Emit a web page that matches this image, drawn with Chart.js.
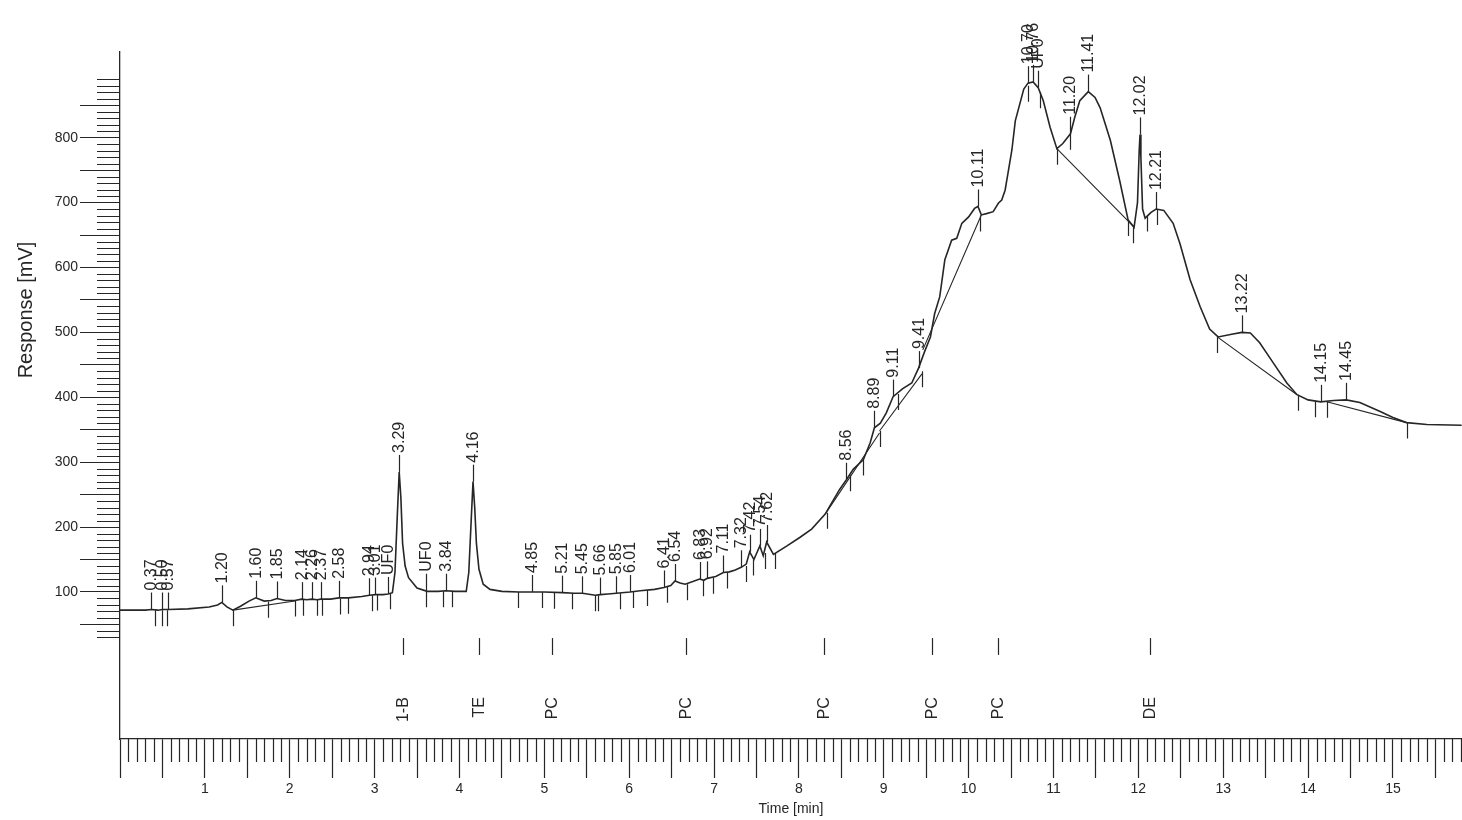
<!DOCTYPE html>
<html>
<head>
<meta charset="utf-8">
<script src="https://cdn.jsdelivr.net/npm/chart.js@4.4.1/dist/chart.umd.min.js"></script>
<style>
  html, body { margin: 0; padding: 0; background: #ffffff; }
  canvas { display: block; }
</style>
</head>
<body>
<canvas id="chrom" width="1462" height="820"></canvas>
<script>
// Detector trace: retention time [min] and response [mV]
const traceTime = [
  0.00, 0.30, 0.37, 0.45, 0.50, 0.57, 0.80, 1.05, 1.15, 1.20, 1.26, 1.33, 1.42, 1.52, 1.60, 1.70,
  1.78, 1.85, 1.95, 2.06, 2.14, 2.20, 2.26, 2.32, 2.37, 2.48, 2.58, 2.69, 2.85, 2.94, 3.01, 3.10,
  3.16, 3.21, 3.24, 3.27, 3.29, 3.31, 3.33, 3.36, 3.40, 3.50, 3.62, 3.75, 3.84, 3.95, 4.08, 4.11,
  4.14, 4.16, 4.18, 4.20, 4.23, 4.28, 4.36, 4.50, 4.70, 4.85, 5.00, 5.21, 5.35, 5.45, 5.60, 5.66,
  5.75, 5.85, 6.01, 6.13, 6.30, 6.41, 6.49, 6.54, 6.60, 6.66, 6.75, 6.83, 6.88, 6.92, 7.02, 7.11,
  7.18, 7.25, 7.32, 7.38, 7.42, 7.47, 7.54, 7.58, 7.62, 7.70, 7.86, 8.01, 8.15, 8.31, 8.39, 8.48,
  8.56, 8.64, 8.76, 8.84, 8.89, 8.96, 9.03, 9.11, 9.22, 9.33, 9.41, 9.48, 9.55, 9.60, 9.66, 9.72,
  9.80, 9.86, 9.92, 10.00, 10.07, 10.11, 10.15, 10.21, 10.29, 10.35, 10.39, 10.43, 10.47, 10.51, 10.55, 10.65,
  10.70, 10.76, 10.82, 10.88, 10.96, 11.04, 11.11, 11.20, 11.25, 11.31, 11.41, 11.49, 11.55, 11.67, 11.78, 11.88,
  11.95, 11.99, 12.01, 12.02, 12.03, 12.05, 12.08, 12.15, 12.21, 12.30, 12.41, 12.49, 12.61, 12.73, 12.84, 12.94,
  13.10, 13.22, 13.32, 13.43, 13.59, 13.75, 13.87, 14.00, 14.15, 14.30, 14.45, 14.61, 14.85, 15.00, 15.16, 15.40,
  15.81
];
const traceResponse = [
  72, 72, 73, 72, 73, 73, 74, 77, 80, 84, 77, 72, 78, 86, 91, 86,
  87, 90, 87, 87, 89, 88, 89, 88, 89, 89, 91, 91, 93, 95, 96, 96,
  97, 99, 130, 225, 285, 245, 175, 140, 122, 106, 101, 101, 102, 101, 101, 130,
  215, 270, 230, 175, 135, 112, 104, 101, 100, 100, 100, 99, 98, 98, 95, 96,
  97, 98, 100, 102, 104, 107, 110, 117, 114, 112, 116, 120, 118, 121, 124, 130,
  131, 134, 138, 143, 162, 150, 171, 156, 177, 158, 171, 184, 197, 220, 238, 258,
  273, 289, 304, 330, 353, 360, 376, 401, 413, 422, 445, 470, 493, 529, 555, 612,
  642, 645, 668, 678, 691, 694, 681, 683, 686, 699, 704, 719, 750, 781, 826, 875,
  884, 886, 877, 857, 816, 783, 791, 806, 831, 857, 871, 862, 846, 796, 734, 673,
  662, 700, 780, 805, 770, 690, 676, 685, 690, 688, 668, 637, 581, 539, 505, 493,
  497, 500, 499, 484, 453, 422, 404, 396, 393, 395, 396, 392, 378, 369, 361, 358,
  357
];

// Integration baselines drawn under resolved peaks
const baseStartTime = [1.33, 8.31, 8.95, 9.46, 11.04, 12.93, 14.22];
const baseStartResp = [72, 220, 348, 473, 783, 493, 393];
const baseEndTime = [2.06, 8.95, 9.45, 10.15, 11.95, 13.87, 15.16];
const baseEndResp = [86, 345, 436, 681, 662, 404, 361];

// Peak apex labels (retention time text, position, apex response)
const peakLabels = [
  '0.37', '0.50', '0.57', '1.20', '1.60', '1.85', '2.14', '2.26', '2.37', '2.58', '2.94', '3.01',
  'UF0', '3.29', 'UF0', '3.84', '4.16', '4.85', '5.21', '5.45', '5.66', '5.85', '6.01', '6.41',
  '6.54', '6.83', '6.92', '7.11', '7.32', '7.42', '7.54', '7.62', '8.56', '8.89', '9.11', '9.41',
  '10.11', '10.70', '10.76', 'UF0', '11.20', '11.41', '12.02', '12.21', '13.22', '14.15', '14.45'
];
const peakTimes = [
  0.37, 0.50, 0.57, 1.20, 1.60, 1.85, 2.14, 2.26, 2.37, 2.58, 2.94, 3.01,
  3.16, 3.29, 3.60, 3.84, 4.16, 4.85, 5.21, 5.45, 5.66, 5.85, 6.01, 6.41,
  6.54, 6.83, 6.92, 7.11, 7.32, 7.42, 7.54, 7.62, 8.56, 8.89, 9.11, 9.41,
  10.11, 10.70, 10.76, 10.82, 11.20, 11.41, 12.02, 12.21, 13.22, 14.15, 14.45
];
const peakApex = [
  73, 73, 73, 84, 91, 90, 89, 89, 89, 91, 95, 96,
  97, 285, 102, 102, 270, 100, 99, 98, 96, 98, 100, 107,
  117, 120, 121, 130, 138, 162, 171, 177, 273, 353, 401, 445,
  694, 884, 886, 877, 806, 871, 805, 690, 500, 393, 396
];

// Peak start / end markers
const boundaryTimes = [
  0.41, 0.49, 0.55, 1.33, 1.74, 2.06, 2.16, 2.32, 2.38, 2.59, 2.69, 2.97,
  3.03, 3.18, 3.61, 3.81, 3.91, 4.69, 4.97, 5.11, 5.33, 5.60, 5.63, 5.89,
  6.05, 6.21, 6.44, 6.68, 6.87, 6.99, 7.15, 7.38, 7.46, 7.60, 7.72, 8.33,
  8.60, 8.76, 8.95, 9.17, 9.45, 10.13, 10.70, 10.84, 11.04, 11.20, 11.88, 11.94,
  12.10, 12.22, 12.93, 13.88, 14.08, 14.22, 15.16
];
const boundaryResp = [
  72, 72, 72, 72, 85, 87, 88, 88, 88, 90, 91, 95,
  96, 98, 101, 101, 101, 100, 100, 99, 98, 95, 95, 98,
  100, 103, 108, 112, 118, 122, 130, 140, 150, 160, 160, 222,
  280, 304, 348, 405, 440, 680, 880, 870, 783, 806, 673, 662,
  680, 690, 493, 404, 394, 393, 361
];

// Method events along the time axis
const eventTimes = [3.34, 4.23, 5.09, 6.67, 8.30, 9.57, 10.35, 12.14];
const eventLabels = ['1-B', 'TE', 'PC', 'PC', 'PC', 'PC', 'PC', 'DE'];

// Axis ranges and tick spacing
const timeMin = 0, timeMax = 15.814;
const respMin = -126.5, respMax = 932;
const respMajorStep = 50, respMinorStep = 10, respMinorFrom = 30, respMinorTo = 890;
const timeMajorStep = 0.5, timeMinorStep = 0.1;

const INK = '#262626';
const FONT = '"Liberation Sans", Arial, Helvetica, sans-serif';

const tracePoints = traceTime.map((t, i) => ({ x: t, y: traceResponse[i] }));
const basePoints = [];
baseStartTime.forEach((t, i) => {
  basePoints.push({ x: t, y: baseStartResp[i] });
  basePoints.push({ x: baseEndTime[i], y: baseEndResp[i] });
  basePoints.push({ x: baseEndTime[i], y: null });
});

const annotations = {
  id: 'chromAnnotations',
  afterDatasetsDraw(chart) {
    const { ctx, scales: { x, y }, chartArea } = chart;
    ctx.save();
    ctx.strokeStyle = INK;
    ctx.fillStyle = INK;
    ctx.lineWidth = 1.2;

    // minor time ticks
    ctx.beginPath();
    for (let k = 0; k * timeMinorStep <= timeMax + 1e-9; k++) {
      if (k % 5 === 0) continue;
      const px = Math.round(x.getPixelForValue(k * timeMinorStep)) + 0.5;
      ctx.moveTo(px, chartArea.bottom);
      ctx.lineTo(px, chartArea.bottom + 23);
    }
    // minor response ticks
    for (let v = respMinorFrom; v <= respMinorTo; v += respMinorStep) {
      if (v % respMajorStep === 0) continue;
      const py = Math.round(y.getPixelForValue(v)) + 0.5;
      ctx.moveTo(chartArea.left - 23, py);
      ctx.lineTo(chartArea.left, py);
    }
    ctx.stroke();

    // peak start / end markers
    ctx.beginPath();
    boundaryTimes.forEach((t, i) => {
      const px = Math.round(x.getPixelForValue(t)) + 0.5;
      const py = y.getPixelForValue(boundaryResp[i]);
      ctx.moveTo(px, py);
      ctx.lineTo(px, py + 16);
    });
    ctx.stroke();

    // apex ticks and retention-time labels
    ctx.font = '16px ' + FONT;
    ctx.textAlign = 'left';
    ctx.textBaseline = 'middle';
    peakTimes.forEach((t, i) => {
      const px = Math.round(x.getPixelForValue(t)) + 0.5;
      const py = y.getPixelForValue(peakApex[i]);
      ctx.beginPath();
      ctx.moveTo(px, py);
      ctx.lineTo(px, py - 17);
      ctx.stroke();
      ctx.save();
      ctx.translate(px + 0.5, py - 19);
      ctx.rotate(-Math.PI / 2);
      ctx.fillText(peakLabels[i], 0, 0);
      ctx.restore();
    });

    // method events: marker plus label hanging from a common top line
    ctx.font = '16px ' + FONT;
    eventTimes.forEach((t, i) => {
      const px = Math.round(x.getPixelForValue(t)) + 0.5;
      ctx.beginPath();
      ctx.moveTo(px, y.getPixelForValue(29));
      ctx.lineTo(px, y.getPixelForValue(3));
      ctx.stroke();
      ctx.save();
      ctx.translate(px + 0.5, y.getPixelForValue(-62));
      ctx.rotate(-Math.PI / 2);
      ctx.textAlign = 'right';
      ctx.fillText(eventLabels[i], 0, 0);
      ctx.restore();
    });

    // response axis title
    ctx.save();
    ctx.font = '20px ' + FONT;
    ctx.translate(26, 310);
    ctx.rotate(-Math.PI / 2);
    ctx.textAlign = 'center';
    ctx.fillText('Response [mV]', 0, 0);
    ctx.restore();

    ctx.restore();
  }
};

new Chart(document.getElementById('chrom'), {
  type: 'line',
  data: {
    datasets: [
      {
        data: tracePoints,
        borderColor: INK,
        borderWidth: 1.6,
        pointRadius: 0,
        tension: 0,
        fill: false
      },
      {
        data: basePoints,
        borderColor: INK,
        borderWidth: 1.1,
        pointRadius: 0,
        tension: 0,
        spanGaps: false,
        fill: false
      }
    ]
  },
  options: {
    responsive: false,
    animation: false,
    layout: { padding: { top: 52, left: 0, right: 0, bottom: 0 } },
    plugins: { legend: { display: false }, tooltip: { enabled: false }, title: { display: false } },
    scales: {
      x: {
        type: 'linear',
        min: timeMin,
        max: timeMax,
        afterFit(s) { s.height = 81; },
        border: { display: true, color: INK, width: 1.3 },
        grid: { drawOnChartArea: false, drawTicks: true, tickLength: 39, tickColor: INK, tickWidth: 1.2 },
        ticks: {
          stepSize: timeMajorStep,
          includeBounds: false,
          autoSkip: false,
          maxRotation: 0,
          padding: 3,
          color: INK,
          font: { family: FONT, size: 14 },
          callback: v => (Math.abs(v - Math.round(v)) < 1e-6 && v > 0) ? String(Math.round(v)) : ''
        },
        title: {
          display: true,
          text: 'Time [min]',
          color: INK,
          font: { family: FONT, size: 14 },
          padding: { top: 0, bottom: 2 }
        }
      },
      y: {
        type: 'linear',
        min: respMin,
        max: respMax,
        afterFit(s) { s.width = 120; },
        border: { display: true, color: INK, width: 1.3 },
        grid: {
          drawOnChartArea: false,
          drawTicks: true,
          tickLength: 40,
          tickWidth: 1.2,
          tickColor: c => (c.tick && c.tick.value >= 50 && c.tick.value <= 850) ? INK : 'rgba(0,0,0,0)'
        },
        ticks: {
          stepSize: respMajorStep,
          includeBounds: false,
          autoSkip: false,
          padding: 2,
          color: INK,
          font: { family: FONT, size: 14 },
          callback: v => (v % 100 === 0 && v >= 100 && v <= 800) ? String(v) : ''
        }
      }
    }
  },
  plugins: [annotations]
});
</script>
</body>
</html>
